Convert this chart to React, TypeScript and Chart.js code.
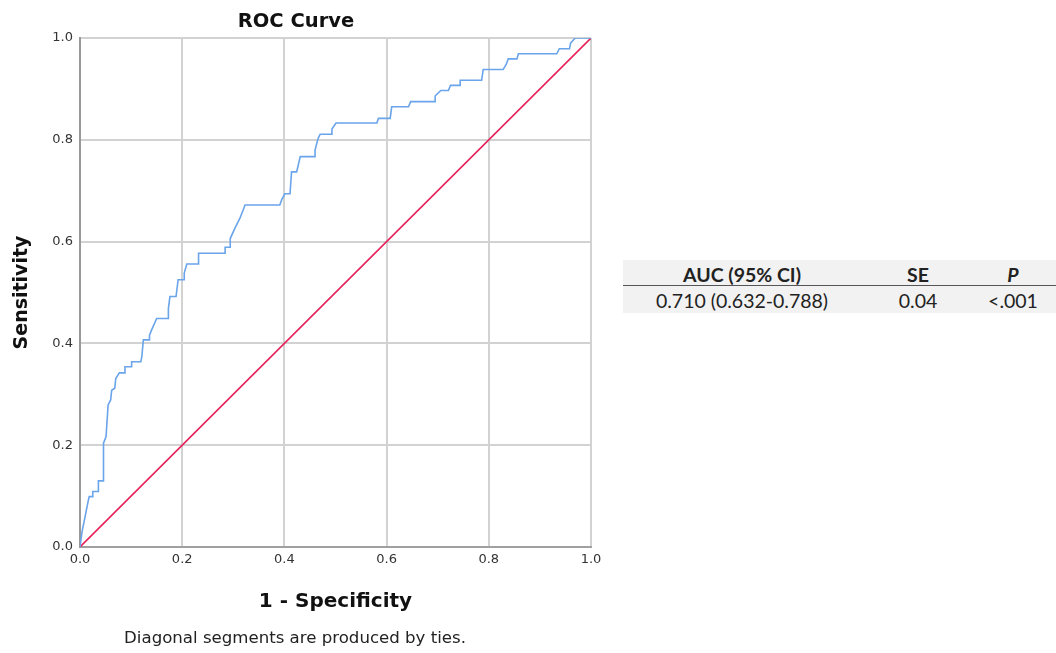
import React, { useEffect, useRef } from "react";
import { Chart, registerables } from "chart.js";
Chart.register(...registerables);

// ROC curve vertices (1 - specificity, sensitivity)
const fpr = [
  0, 0.004, 0.008, 0.012, 0.016, 0.018, 0.025, 0.025, 0.036, 0.036, 0.046, 0.046,
  0.051, 0.055, 0.06, 0.062, 0.068, 0.07, 0.077, 0.088, 0.088, 0.101, 0.101, 0.119,
  0.121, 0.124, 0.136, 0.136, 0.14, 0.15, 0.173, 0.173, 0.176, 0.188, 0.192, 0.204,
  0.204, 0.209, 0.232, 0.232, 0.284, 0.284, 0.294, 0.294, 0.303, 0.313, 0.323, 0.391,
  0.395, 0.401, 0.411, 0.414, 0.424, 0.431, 0.46, 0.46, 0.466, 0.47, 0.493, 0.493,
  0.501, 0.581, 0.584, 0.607, 0.61, 0.643, 0.647, 0.695, 0.695, 0.706, 0.721, 0.725,
  0.744, 0.744, 0.786, 0.789, 0.828, 0.834, 0.838, 0.855, 0.858, 0.933, 0.938, 0.958,
  0.96, 0.969, 1.0,
];
const tpr = [
  0, 0.03, 0.05, 0.07, 0.09, 0.099, 0.099, 0.109, 0.109, 0.13, 0.13, 0.204,
  0.217, 0.279, 0.289, 0.308, 0.312, 0.331, 0.342, 0.342, 0.354, 0.354, 0.364, 0.364,
  0.374, 0.407, 0.407, 0.416, 0.426, 0.449, 0.449, 0.469, 0.492, 0.492, 0.525, 0.525,
  0.538, 0.556, 0.556, 0.577, 0.577, 0.589, 0.589, 0.606, 0.626, 0.646, 0.672, 0.672,
  0.683, 0.694, 0.694, 0.737, 0.737, 0.767, 0.767, 0.78, 0.803, 0.811, 0.811, 0.821,
  0.833, 0.833, 0.842, 0.842, 0.865, 0.865, 0.875, 0.875, 0.886, 0.897, 0.897, 0.907,
  0.907, 0.917, 0.917, 0.938, 0.938, 0.948, 0.959, 0.959, 0.969, 0.969, 0.979, 0.979,
  0.99, 1.0, 1.0,
];
// Reference (chance) line
const refLine = [0, 1];

const tableHeaders = ["AUC (95% CI)", "SE", "P"];
const tableRow = ["0.710 (0.632-0.788)", "0.04", "<.001"];
const colCenters = [119, 295, 390];

const axisFont = "'DejaVu Sans', sans-serif";

export default function App() {
  const ref = useRef<HTMLCanvasElement>(null);
  useEffect(() => {
    document.body.style.margin = "0";
    const chart = new Chart(ref.current!, {
      type: "scatter",
      data: {
        datasets: [
          {
            data: fpr.map((x, i) => ({ x, y: tpr[i] })),
            showLine: true,
            borderColor: "#6aa4ea",
            borderWidth: 1.6,
            pointRadius: 0,
            fill: false,
          },
          {
            data: refLine.map((v) => ({ x: v, y: v })),
            showLine: true,
            borderColor: "#e5245c",
            borderWidth: 1.6,
            pointRadius: 0,
            fill: false,
          },
        ],
      },
      options: {
        animation: false,
        responsive: false,
        layout: { padding: { top: 38, left: 0, right: 29, bottom: 31 } },
        plugins: { legend: { display: false }, tooltip: { enabled: false } },
        scales: {
          x: {
            type: "linear",
            min: 0,
            max: 1,
            afterFit: (s: any) => {
              s.height = 75;
            },
            ticks: {
              stepSize: 0.2,
              padding: 5,
              color: "#333",
              maxRotation: 0,
              font: { family: axisFont, size: 13 },
              callback: (v: any) => Number(v).toFixed(1),
            },
            grid: { color: "#d2d2d2", lineWidth: 2, drawTicks: false },
            border: { color: "#a0a0a0", width: 2 },
            title: {
              display: true,
              text: "1 - Specificity",
              color: "#111",
              font: { family: axisFont, size: 20, weight: "bold" },
              padding: { top: 0, bottom: 8 },
            },
          },
          y: {
            type: "linear",
            min: 0,
            max: 1,
            afterFit: (s: any) => {
              s.width = 80;
            },
            ticks: {
              stepSize: 0.2,
              padding: 7,
              color: "#333",
              font: { family: axisFont, size: 13 },
              callback: (v: any) => Number(v).toFixed(1),
            },
            grid: { color: "#d2d2d2", lineWidth: 2, drawTicks: false },
            border: { color: "#999", width: 2 },
            title: {
              display: true,
              text: "Sensitivity",
              color: "#111",
              font: { family: axisFont, size: 19, weight: "bold" },
              padding: { top: 11, bottom: 0 },
            },
          },
        },
      },
    });
    return () => chart.destroy();
  }, []);

  const tableFont = "Lato, 'Open Sans', sans-serif";
  return (
    <div style={{ position: "fixed", left: 0, top: 0, width: 1056, height: 653, background: "#fff", overflow: "hidden" }}>
      <canvas ref={ref} width={620} height={653} style={{ position: "absolute", left: 0, top: 0, display: "block" }} />
      <div
        style={{
          position: "absolute",
          left: 296,
          top: 20,
          transform: "translate(-50%, -50%)",
          fontFamily: axisFont,
          fontWeight: "bold",
          fontSize: 19.5,
          color: "#111",
          whiteSpace: "nowrap",
        }}
      >
        ROC Curve
      </div>
      <div
        style={{
          position: "absolute",
          left: 295,
          top: 637,
          transform: "translate(-50%, -50%)",
          fontFamily: axisFont,
          fontSize: 16.6,
          color: "#222",
          whiteSpace: "nowrap",
        }}
      >
        Diagonal segments are produced by ties.
      </div>
      <div
        style={{
          position: "absolute",
          left: 623,
          top: 260,
          width: 433,
          height: 53,
          background: "#f2f2f2",
          fontFamily: tableFont,
          fontSize: 19.5,
          color: "#222",
        }}
      >
        <div style={{ position: "absolute", left: 0, top: 25, width: 433, height: 0, borderTop: "1.5px solid #555" }} />
        {tableHeaders.map((h, i) => (
          <div
            key={"h" + i}
            style={{
              position: "absolute",
              left: colCenters[i],
              top: 14,
              transform: "translate(-50%, -50%)",
              fontWeight: "bold",
              fontStyle: i === 2 ? "italic" : "normal",
              whiteSpace: "nowrap",
            }}
          >
            {h}
          </div>
        ))}
        {tableRow.map((c, i) => (
          <div
            key={"r" + i}
            style={{
              position: "absolute",
              left: colCenters[i],
              top: 40,
              transform: "translate(-50%, -50%)",
              whiteSpace: "nowrap",
            }}
          >
            {c}
          </div>
        ))}
      </div>
    </div>
  );
}
